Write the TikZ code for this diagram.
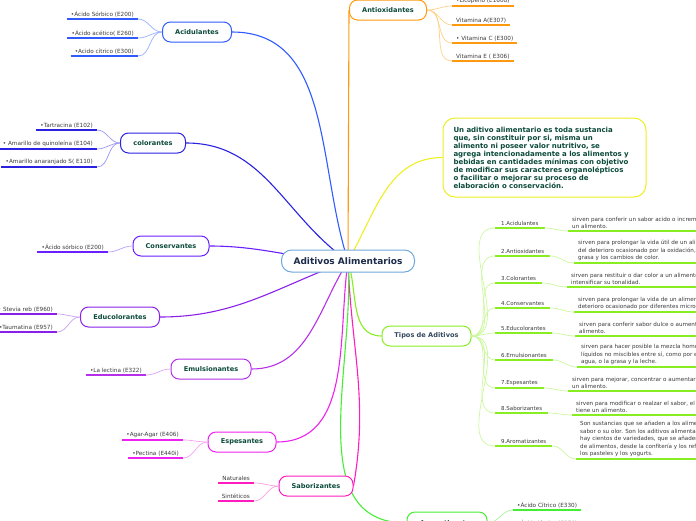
\documentclass[tikz,border=0pt]{standalone}
\usepackage{fontspec}
\setmainfont{DejaVu Sans}
\usetikzlibrary{calc}
\pgfdeclarelayer{bg}
\pgfsetlayers{bg,main}

\definecolor{topictext}{HTML}{0B4A3A}
\definecolor{leaftext}{HTML}{3A3A3A}
\definecolor{rootline}{HTML}{6FA8DC}
\definecolor{roottext}{HTML}{1C2B4A}
\definecolor{cacid}{HTML}{2F5BFF}
\definecolor{cacidL}{HTML}{9AAEFF}
\definecolor{ccol}{HTML}{2A22E0}
\definecolor{ccolL}{HTML}{9A96F2}
\definecolor{ccons}{HTML}{6A1FFF}
\definecolor{cconsL}{HTML}{B8A0FF}
\definecolor{cedu}{HTML}{8A20E8}
\definecolor{ceduL}{HTML}{C9A0F2}
\definecolor{cemu}{HTML}{B530E8}
\definecolor{cemuL}{HTML}{DDA2F4}
\definecolor{cesp}{HTML}{EE22EE}
\definecolor{cespL}{HTML}{F7A0F7}
\definecolor{csab}{HTML}{FF1DBF}
\definecolor{csabL}{HTML}{FF9FE0}
\definecolor{canti}{HTML}{FF9A10}
\definecolor{cantiL}{HTML}{FFD08A}
\definecolor{cdef}{HTML}{EEEE22}
\definecolor{ctipos}{HTML}{88EE22}
\definecolor{ctiposL}{HTML}{CCF7A0}
\definecolor{tipostext}{HTML}{34495E}
\definecolor{carom}{HTML}{44EE33}
\definecolor{caromL}{HTML}{A8F59E}

\tikzset{
  topic/.style={draw=#1, line width=1pt, rounded corners=8pt, fill=white,
    text=topictext, font=\bfseries\fontsize{6.6}{8}\selectfont,
    minimum height=20pt},
  leaf/.style={text=leaftext, font=\fontsize{5.7}{6.5}\selectfont,
    inner xsep=4pt, inner ysep=2pt},
  tipo/.style={text=leaftext, font=\fontsize{5.5}{6.5}\selectfont,
    inner xsep=6pt, inner ysep=2pt, anchor=south west},
  expl/.style={text=leaftext, font=\fontsize{5.6}{7.5}\selectfont, align=left,
    inner xsep=4pt, inner ysep=2pt, anchor=south west},
  uline/.style={line width=1.7pt},
  twig/.style={line width=0.7pt},
  branch/.style={line width=1.1pt}
}

\begin{document}
\begin{tikzpicture}[x=1pt,y=-1pt]
  \useasboundingbox (0,0) rectangle (696,520);

  \node[draw=rootline, line width=1pt, rounded corners=10pt, fill=white,
    text=roottext, font=\bfseries\fontsize{9}{10}\selectfont,
    minimum width=133pt, minimum height=22pt] (root) at (348,261) {Aditivos Alimentarios};

  \node[topic=canti, minimum width=77pt] (anti) at (388,10) {Antioxidantes};
  \node[topic=cacid, minimum width=69pt] (acid) at (197,32) {Acidulantes};
  \node[topic=ccol, minimum width=65pt] (col) at (153,143) {colorantes};
  \node[topic=ccons, minimum width=76pt] (cons) at (171,246) {Conservantes};
  \node[topic=cedu, minimum width=79pt] (edu) at (120,317) {Educolorantes};
  \node[topic=cemu, minimum width=80pt] (emu) at (211,369) {Emulsionantes};
  \node[topic=cesp, minimum width=68pt] (esp) at (242,442) {Espesantes};
  \node[topic=csab, minimum width=74pt] (sab) at (316,486) {Saborizantes};
  \node[topic=ctipos, text=tipostext, minimum width=89pt] (tipos) at (426.5,336) {Tipos de Aditivos};
  \node[topic=carom, minimum width=80pt, minimum height=22pt] (arom) at (447,523) {Aromatizantes};

  \node[draw=cdef, line width=1pt, rounded corners=12pt, fill=white, text=topictext,
    font=\bfseries\fontsize{7}{8}\selectfont, align=left, text width=182pt,
    inner xsep=10.5pt, minimum height=79pt] (def) at (544.5,157.5)
    {Un aditivo alimentario es toda sustancia\\
     que, sin constituir por si, misma un\\
     alimento ni poseer valor nutritivo, se\\
     agrega intencionadamente a los alimentos y\\
     bebidas en cantidades mínimas con objetivo\\
     de modificar sus caracteres organolépticos\\
     o facilitar o mejorar su proceso de\\
     elaboración o conservación.};

  \begin{pgfonlayer}{bg}
    \draw[branch, canti] (root.center) -- (anti.west);
    \draw[branch, cacid] (root.center) to[out=108,in=0] (acid.east);
    \draw[branch, ccol] (root.center) to[out=145,in=0] (col.east);
    \draw[branch, ccons] (root.center) to[out=178,in=0] (cons.east);
    \draw[branch, cedu] (root.center) to[out=200,in=0] (edu.east);
    \draw[branch, cemu] (root.center) to[out=238,in=0] (emu.east);
    \draw[branch, cesp] (root.center) to[out=262,in=0] (esp.east);
    \draw[branch, csab] (root.center) to[out=-88,in=80] (sab.east);
    \draw[branch, cdef] (root.center) to[out=60,in=180] (def.west);
    \draw[branch, ctipos] (root.center) to[out=-72,in=180] (tipos.west);
    \draw[branch, carom] (root.center) to[out=-86,in=180] (arom.west);
  \end{pgfonlayer}

  \foreach \i/\y/\t in {1/6/{•Licopeno (E160d)}, 2/25/{Vitamina A(E307)},
      3/43/{• Vitamina C (E300)}, 4/61/{Vitamina E ( E306)}} {
    \node[leaf, anchor=south west] (anti\i) at (452,\y) {\t};
    \draw[uline, canti] (anti\i.south west) -- (anti\i.south east);
    \draw[twig, cantiL] (anti.east) to[out=0,in=180] (anti\i.south west);
  }

  \foreach \i/\y/\t in {1/19/{•Ácido Sórbico (E200)}, 2/38/{•Ácido acético( E260)},
      3/56/{•Acido cítrico (E300)}} {
    \node[leaf, anchor=south east] (acid\i) at (138,\y) {\t};
    \draw[uline, cacid] (acid\i.south west) -- (acid\i.south east);
    \draw[twig, cacidL] (acid.west) to[out=180,in=0] (acid\i.south east);
  }

  \foreach \i/\y/\t in {1/130/{•Tartracina (E102)}, 2/149/{• Amarillo de quinoleína (E104)},
      3/167/{•Amarillo anaranjado S( E110)}} {
    \node[leaf, anchor=south east] (col\i) at (97,\y) {\t};
    \draw[uline, ccol] (col\i.south west) -- (col\i.south east);
    \draw[twig, ccolL] (col.west) to[out=180,in=0] (col\i.south east);
  }

  \node[leaf, anchor=south east] (cons1) at (108,252) {•Ácido sórbico (E200)};
  \draw[uline, ccons] (cons1.south west) -- (cons1.south east);
  \draw[twig, cconsL] (cons.west) to[out=180,in=0] (cons1.south east);

  \foreach \i/\y/\t in {1/314/{• Stevia reb (E960)}, 2/332/{•Taumatina (E957)}} {
    \node[leaf, anchor=south east] (edu\i) at (57,\y) {\t};
    \draw[uline, cedu] (edu\i.south west) -- (edu\i.south east);
    \draw[twig, ceduL] (edu.west) to[out=180,in=0] (edu\i.south east);
  }

  \node[leaf, anchor=south east] (emu1) at (146,375) {•La lectina (E322)};
  \draw[uline, cemu] (emu1.south west) -- (emu1.south east);
  \draw[twig, cemuL] (emu.west) to[out=180,in=0] (emu1.south east);

  \foreach \i/\y/\t in {1/440/{•Agar-Agar (E406)}, 2/458/{•Pectina (E440i)}} {
    \node[leaf, anchor=south east] (esp\i) at (183,\y) {\t};
    \draw[uline, cesp] (esp\i.south west) -- (esp\i.south east);
    \draw[twig, cespL] (esp.west) to[out=180,in=0] (esp\i.south east);
  }

  \foreach \i/\y/\t in {1/483/{Naturales}, 2/501/{Sintéticos}} {
    \node[leaf, anchor=south east] (sab\i) at (254,\y) {\t};
    \draw[uline, csab] (sab\i.south west) -- (sab\i.south east);
    \draw[twig, csabL] (sab.west) to[out=180,in=0] (sab\i.south east);
  }

  \foreach \i/\y/\t in {1/510/{•Ácido Cítrico (E330)}, 2/528/{•Ácido láctico (E270)}} {
    \node[leaf, anchor=south west] (arom\i) at (513,\y) {\t};
    \draw[uline, carom] (arom\i.south west) -- (arom\i.south east);
    \draw[twig, caromL] (arom.east) to[out=0,in=180] (arom\i.south west);
  }

  \foreach \i/\y/\t/\dx/\dy/\d in {
      1/228/{1.Acidulantes}/568/231/{sirven para conferir un sabor acido o incrementar\\un alimento.},
      2/256/{2.Antioxidantes}/574/263/{sirven para prolongar la vida útil de un alimento\\del deterioro ocasionado por la oxidación, como\\grasa y los cambios de color.},
      3/283/{3.Colorantes}/567/287/{sirven para restituir o dar color a un alimento o\\intensificar su tonalidad.},
      4/308/{4.Conservantes}/574/312/{sirven para prolongar la vida de un alimento\\deterioro ocasionado por diferentes microorganismos.},
      5/333/{5.Educolorantes}/575/336/{sirven para conferir sabor dulce o aumentar\\alimento.},
      6/360/{6.Emulsionantes}/577/367/{sirven para hacer posible la mezcla homogénea\\líquidos no miscibles entre sí, como por ejemplo\\agua, o la grasa y la leche.},
      7/388/{7.Espesantes}/568/391/{sirven para mejorar, concentrar o aumentar\\un alimento.},
      8/413/{8.Saborizantes}/572/415/{sirven para modificar o realzar el sabor, el aroma\\tiene un alimento.},
      9/446/{9.Aromatizantes}/576/459/{Son sustancias que se añaden a los alimentos\\sabor o su olor. Son los aditivos alimentarios\\hay cientos de variedades, que se añaden\\de alimentos, desde la confitería y los refrescos\\los pasteles y los yogurts.}} {
    \node[tipo] (tipo\i) at (495,\y) {\t};
    \draw[uline, ctipos] (tipo\i.south west) -- (tipo\i.south east);
    \draw[twig, ctiposL] (tipos.east) to[out=0,in=180] (tipo\i.south west);
    \node[expl] (expl\i) at (\dx,\dy) {\d};
    \draw[uline, ctipos] (expl\i.south west) -- ++(140,0);
    \draw[twig, ctiposL] (tipo\i.south east) to[out=0,in=180] (expl\i.south west);
  }
\end{tikzpicture}
\end{document}
